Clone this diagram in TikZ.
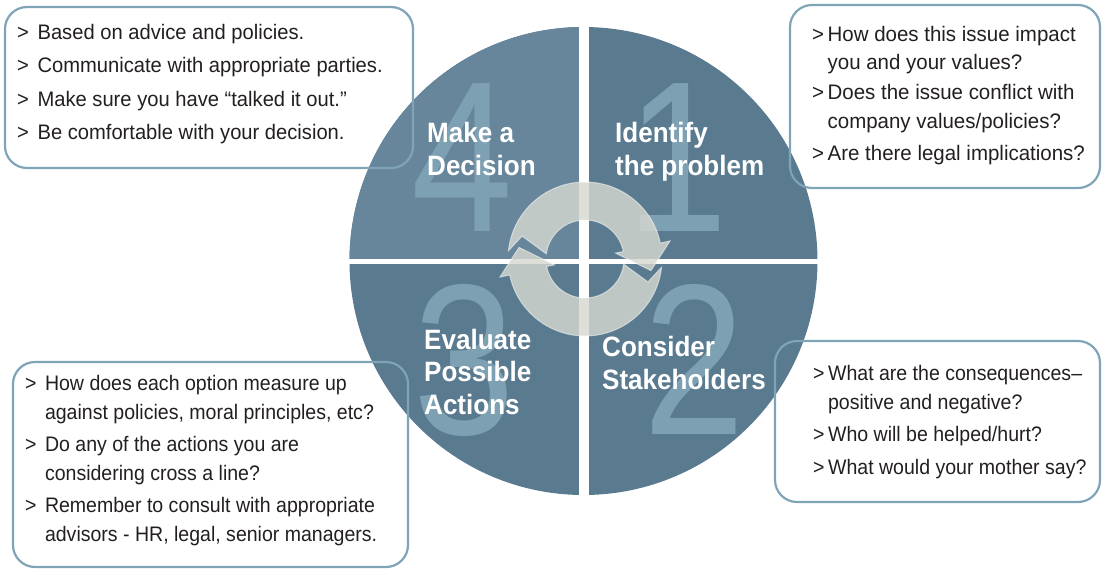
\documentclass[tikz,border=0pt]{standalone}
\usepackage{fontspec}
\setmainfont{Liberation Sans}[FakeStretch=0.93]
\newfontfamily\digitfont{Liberation Sans}[FakeStretch=0.85]
\newfontfamily\notewide{Liberation Sans}[FakeStretch=0.96]
\newfontfamily\notewider{Liberation Sans}[FakeStretch=0.975]
\usetikzlibrary{positioning}
\definecolor{quaddark}{HTML}{5A7A90}
\definecolor{quadlight}{HTML}{67869B}
\definecolor{digitblue}{HTML}{7EA0B3}
\definecolor{boxline}{HTML}{7FA4B6}
\definecolor{ringgray}{RGB}{214,216,208}
\definecolor{bodyink}{HTML}{231F20}

\begin{document}
\begin{tikzpicture}[x=1pt, y=-1pt,
	infobox/.style={draw=boxline, line width=2.2pt, rounded corners=22pt},
	bodytext/.style={anchor=base west, inner sep=0pt, align=left, text=bodyink,
		font=\fontsize{21pt}{28.5pt}\selectfont#1},
	bodytext/.default={},
	headtext/.style={anchor=base west, inner sep=0pt, align=left, text=white,
		font=\fontsize{28pt}{32.5pt}\selectfont\bfseries},
	bignum/.style={anchor=base, inner sep=0pt, text=digitblue,
		font=\fontsize{215pt}{215pt}\selectfont\digitfont},
	cyclepart/.style={fill=ringgray, fill opacity=0.82, draw=white, draw opacity=0.5, line width=1pt}]
	\useasboundingbox (0,0) rectangle (1104,571);
	\coordinate (ctr) at (583.5,261);
	% wheel with four quarters
	\fill[quaddark] (ctr) circle[radius=234];
	\begin{scope}
		\clip (ctr) rectangle ++(-240,-240);
		\fill[quadlight] (ctr) circle[radius=234];
	\end{scope}
	\draw[white, line width=10pt] (583.5,20) -- (583.5,505);
	\draw[white, line width=5pt] (340,261) -- (830,261);
	% step numbers
	\node[bignum] (num4) at (462,231) {4};
	\node[bignum] (num1) at (677,231) {1};
	\node[bignum] (num3) at (464,434) {3};
	\node[bignum] (num2) at (694,434) {2};
	% cycle arrows
	\begin{scope}[shift={(585,259)}, y=1pt]
		\foreach \rot in {0,180}
			\path[cyclepart, rotate=\rot] (173.9:77) arc[start angle=173.9, end angle=12, radius=77]
				-- (12:87) -- (-10:67) -- (11:31) -- (11:39)
				arc[start angle=11, end angle=172.5, radius=39] -- (160:67) -- cycle;
	\end{scope}
	% step titles (placed at the baseline of their last line)
	\node[headtext] (decide) at (427,175) {Make a\\Decision};
	\node[headtext] (identify) at (615,175) {Identify\\the problem};
	\node[headtext] (evaluate) at (424,414) {Evaluate\\Possible\\Actions};
	\node[headtext] (consider) at (602,389) {Consider\\Stakeholders};
	% note boxes
	\draw[infobox] (5,7) rectangle (413,168);
	\draw[infobox] (790,5) rectangle (1100,188);
	\draw[infobox] (13,362) rectangle (408,567);
	\draw[infobox] (775,341) rectangle (1100,502);
	\node[bodytext=\notewide] (decidenotes) at (17,139.5) {>\kern3pt{} Based on advice and policies.\\[4.8pt]
		>\kern3pt{} Communicate with appropriate parties.\\[4.8pt]
		>\kern3pt{} Make sure you have “talked it out.”\\[4.8pt]
		>\kern3pt{} Be comfortable with your decision.};
	\node[bodytext=\notewider] (identifynotes) at (812,160) {>\kern3.5pt How does this issue impact\\
		\phantom{>\kern3.5pt}you and your values?\\[1.5pt]
		>\kern3.5pt Does the issue conflict with\\
		\phantom{>\kern3.5pt}company values/policies?\\[3.5pt]
		>\kern3.5pt Are there legal implications?};
	\node[bodytext] (evaluatenotes) at (25,541) {>\kern3pt{} How does each option measure up\\
		\phantom{>\kern3pt{} }against policies, moral principles, etc?\\[4pt]
		>\kern3pt{} Do any of the actions you are\\
		\phantom{>\kern3pt{} }considering cross a line?\\[4pt]
		>\kern3pt{} Remember to consult with appropriate\\
		\phantom{>\kern3pt{} }advisors - HR, legal, senior managers.};
	\node[bodytext] (considernotes) at (813,474) {>\kern3.5pt What are the consequences–\\
		\phantom{>\kern3.5pt}positive and negative?\\[4pt]
		>\kern3.5pt Who will be helped/hurt?\\[4pt]
		>\kern3.5pt What would your mother say?};
\end{tikzpicture}
\end{document}
